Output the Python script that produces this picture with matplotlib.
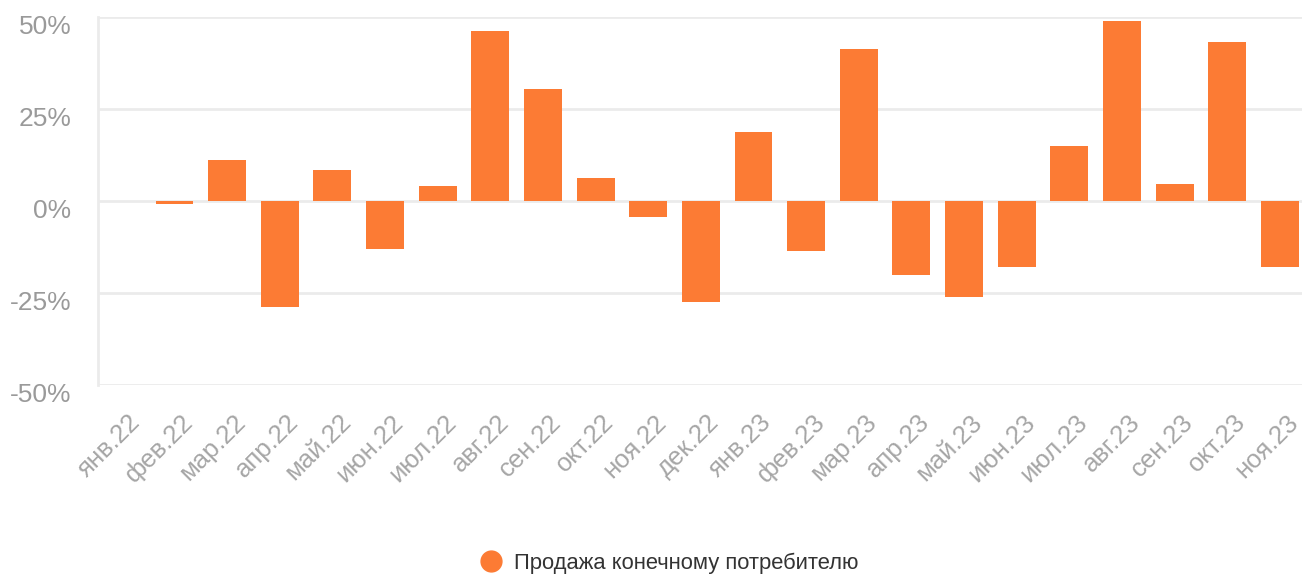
import numpy as np
import matplotlib
matplotlib.use("Agg")
import matplotlib.pyplot as plt
from matplotlib.lines import Line2D
from matplotlib.transforms import ScaledTranslation

# данные: изменение продаж конечному потребителю, %
months = ["янв.22", "фев.22", "мар.22", "апр.22", "май.22", "июн.22", "июл.22",
          "авг.22", "сен.22", "окт.22", "ноя.22", "дек.22", "янв.23", "фев.23",
          "мар.23", "апр.23", "май.23", "июн.23", "июл.23", "авг.23", "сен.23",
          "окт.23", "ноя.23"]
values = [0.0, -0.8, 11.2, -29.0, 8.5, -13.1, 4.1,
          46.2, 30.3, 6.3, -4.4, -27.6, 18.6, -13.7,
          41.3, -20.2, -26.2, -18.1, 15.0, 48.9, 4.5,
          43.2, -18.1]
yticks = [-50, -25, 0, 25, 50]
series_name = "Продажа конечному потребителю"

orange = "#FC7B34"
grid_c = "#ebebeb"

plt.rcParams['font.family'] = ['Liberation Sans', 'DejaVu Sans']

fig = plt.figure(figsize=(13.02, 5.78), dpi=100)
ax = fig.add_axes([98 / 1302, 1 - 384.5 / 578, 1 - 98 / 1302, (384.5 - 17) / 578])

x = np.arange(len(months))
ax.bar(x, values, width=0.72, color=orange, zorder=3)

ax.set_ylim(-50, 50)
ax.set_xlim(-0.454, 22.42)
ax.set_yticks(yticks)
ax.set_yticklabels(["%d%%" % v for v in yticks], fontsize=19, color="#9a9a9a")
ax.yaxis.grid(True, color=grid_c, linewidth=2, zorder=0)
ax.tick_params(axis="y", length=0, pad=19)
ax.tick_params(axis="x", length=0, pad=4)
for lbl in ax.get_yticklabels():
    lbl.set_transform(lbl.get_transform() + ScaledTranslation(0, -8 / 100, fig.dpi_scale_trans))

ax.set_xticks(x)
ax.set_xticklabels(months, rotation=45, ha="right", va="top", rotation_mode="anchor",
                   fontsize=18.5, color="#a6a6a6")
for lbl in ax.get_xticklabels():
    lbl.set_transform(lbl.get_transform() + ScaledTranslation(6 / 100, -20 / 100, fig.dpi_scale_trans))

for s in ["top", "right", "bottom"]:
    ax.spines[s].set_visible(False)
ax.spines["left"].set_color(grid_c)
ax.spines["left"].set_linewidth(2)

handle = Line2D([], [], marker="o", linestyle="none", markersize=15,
                markerfacecolor=orange, markeredgecolor=orange)
fig.legend([handle], [series_name], loc="center", bbox_to_anchor=(664 / 1302, 1 - 563 / 578),
           frameon=False, fontsize=15.8, handletextpad=0.05, labelcolor="#333333")

fig.savefig("out.png", dpi=100)
